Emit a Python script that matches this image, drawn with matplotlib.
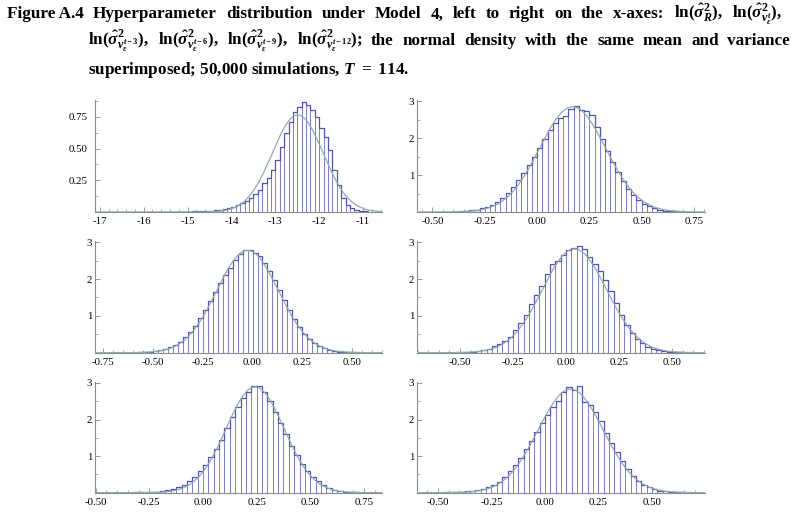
import numpy as np
import matplotlib
matplotlib.use("Agg")
import matplotlib.pyplot as plt
from matplotlib.ticker import MultipleLocator, FixedLocator, FuncFormatter

plt.rcParams["font.family"] = ["Liberation Serif", "DejaVu Serif"]
plt.rcParams["mathtext.fontset"] = "custom"
plt.rcParams["mathtext.rm"] = "Liberation Serif:bold"
plt.rcParams["mathtext.it"] = "Liberation Serif:italic:bold"
plt.rcParams["mathtext.bf"] = "Liberation Serif:bold"
plt.rcParams["axes.unicode_minus"] = False

# ---- histogram data (density per bin) ----
bin_start = [-15.3, -0.425, -0.575, -0.525, -0.375, -0.475]
bin_width = [0.1, 0.025, 0.025, 0.025, 0.025, 0.025]

h_R = [0.002, 0.002, 0.003, 0.003, 0.004, 0.005, 0.006, 0.008, 0.010, 0.013,
       0.016, 0.024, 0.032, 0.042, 0.055, 0.068, 0.087, 0.11, 0.14, 0.175,
       0.225, 0.27, 0.335, 0.41, 0.51, 0.62, 0.71, 0.79, 0.83, 0.87,
       0.845, 0.805, 0.75, 0.66, 0.595, 0.49, 0.33, 0.21, 0.11, 0.055,
       0.03, 0.016, 0.008, 0.004]
h_v0 = [0.006, 0.01, 0.017, 0.027, 0.042, 0.064, 0.095, 0.14, 0.20, 0.28,
        0.39, 0.52, 0.68, 0.86, 1.06, 1.28, 1.50, 1.74, 1.98, 2.22,
        2.42, 2.55, 2.60, 2.78, 2.86, 2.77, 2.74, 2.64, 2.30, 1.98,
        1.65, 1.35, 1.08, 0.84, 0.63, 0.46, 0.33, 0.23, 0.155, 0.10,
        0.063, 0.04, 0.024, 0.014, 0.008]
h_v3 = [0.012, 0.02, 0.03, 0.045, 0.068, 0.10, 0.15, 0.215, 0.30, 0.42,
        0.56, 0.73, 0.93, 1.16, 1.40, 1.64, 1.90, 2.12, 2.30, 2.52,
        2.68, 2.80, 2.80, 2.72, 2.62, 2.44, 2.22, 1.98, 1.70, 1.42,
        1.15, 0.91, 0.70, 0.52, 0.38, 0.27, 0.185, 0.12, 0.078, 0.048,
        0.03, 0.018, 0.01, 0.006]
h_v6 = [0.006, 0.011, 0.018, 0.03, 0.045, 0.07, 0.11, 0.17, 0.24, 0.32,
        0.44, 0.62, 0.81, 1.03, 1.32, 1.56, 1.82, 2.15, 2.42, 2.50,
        2.66, 2.80, 2.84, 2.91, 2.82, 2.60, 2.42, 2.22, 1.98, 1.68,
        1.35, 1.02, 0.75, 0.53, 0.36, 0.26, 0.16, 0.10, 0.062, 0.038,
        0.022, 0.012, 0.007]
h_v9 = [0.003, 0.005, 0.007, 0.01, 0.014, 0.02, 0.028, 0.045, 0.07, 0.10,
        0.15, 0.22, 0.31, 0.44, 0.58, 0.76, 0.98, 1.20, 1.45, 1.78,
        2.08, 2.35, 2.60, 2.76, 2.93, 2.92, 2.75, 2.50, 2.20, 1.90,
        1.60, 1.28, 1.02, 0.78, 0.60, 0.44, 0.32, 0.21, 0.135, 0.085,
        0.05, 0.028, 0.015, 0.008]
h_v12 = [0.006, 0.01, 0.015, 0.022, 0.033, 0.05, 0.075, 0.11, 0.15, 0.20,
         0.30, 0.42, 0.58, 0.76, 0.96, 1.20, 1.42, 1.66, 1.90, 2.12,
         2.33, 2.50, 2.75, 2.88, 2.82, 2.92, 2.48, 2.40, 2.22, 1.96,
         1.62, 1.36, 1.12, 0.86, 0.66, 0.47, 0.33, 0.22, 0.145, 0.095,
         0.06, 0.036, 0.02, 0.011, 0.006]
heights = [h_R, h_v0, h_v3, h_v6, h_v9, h_v12]

# normal curve with the same mean / spread, as drawn
curve_mean = [-12.49, 0.17, -0.025, 0.04, 0.243, 0.12]
curve_sd = [0.58, 0.158, 0.155, 0.152, 0.135, 0.152]
curve_peak = [0.766, 2.85, 2.78, 2.82, 2.89, 2.83]

x_limits = [(-17.11, -10.57), (-0.574, 0.803), (-0.791, 0.650),
            (-0.703, 0.656), (-0.503, 0.834), (-0.598, 0.748)]

title_line1 = ["Figure A.4", "Hyperparameter", "distribution", "under", "Model", "4,",
               "left", "to", "right", "on", "the", "x-axes:",
               r"$\mathrm{ln}(\hat{\sigma}^2_R),$",
               r"$\mathrm{ln}(\hat{\sigma}^2_{v^{t}_{\varepsilon}}),$"]
title_line2 = [r"$\mathrm{ln}(\hat{\sigma}^2_{v^{t-3}_{\varepsilon}}),$",
               r"$\mathrm{ln}(\hat{\sigma}^2_{v^{t-6}_{\varepsilon}}),$",
               r"$\mathrm{ln}(\hat{\sigma}^2_{v^{t-9}_{\varepsilon}}),$",
               r"$\mathrm{ln}(\hat{\sigma}^2_{v^{t-12}_{\varepsilon}});$",
               "the", "normal", "density", "with", "the", "same", "mean", "and", "variance"]
title_line3 = r"superimposed; 50,000 simulations, $T\ =\ 114$."

W, H = 799, 517
fig = plt.figure(figsize=(W / 100, H / 100), dpi=100)

# panel boxes in pixels: left, top, right, bottom
boxes = [(95, 100, 382, 212), (417, 100, 705, 212),
         (95, 241, 382, 352.7), (417, 241, 705, 352.7),
         (95, 381.7, 382, 492.7), (417, 381.7, 705, 492.7)]

AXIS_C = "#8c8c8c"
BAR_EDGE = "#7c7cea"
STEP_C = "#5050c0"
CURVE_C = "#8fada3"

for i, (l, t, r, b) in enumerate(boxes):
    ax = fig.add_axes([l / W, 1 - b / H, (r - l) / W, (b - t) / H])
    hs = np.array(heights[i])
    edges = bin_start[i] + bin_width[i] * np.arange(len(hs) + 1)
    ax.bar(edges[:-1], hs, width=bin_width[i], align="edge",
           facecolor="white", edgecolor=BAR_EDGE, linewidth=0.7, zorder=2)
    ax.stairs(hs, edges, baseline=None, color=STEP_C, linewidth=0.9, zorder=3)
    x0, x1 = x_limits[i]
    xs = np.linspace(x0, x1, 500)
    ys = curve_peak[i] * np.exp(-0.5 * ((xs - curve_mean[i]) / curve_sd[i]) ** 2)
    ax.plot(xs, ys, color=CURVE_C, linewidth=0.9, zorder=4)
    ax.set_xlim(x0, x1)
    if i == 0:
        ax.set_ylim(0, 0.884)
        ax.xaxis.set_major_locator(MultipleLocator(1))
        ax.xaxis.set_minor_locator(MultipleLocator(0.2))
        ax.xaxis.set_major_formatter(FuncFormatter(lambda v, p: f"{v:.0f}"))
        ax.yaxis.set_major_locator(FixedLocator([0.25, 0.5, 0.75]))
        ax.yaxis.set_minor_locator(MultipleLocator(0.125))
        ax.yaxis.set_major_formatter(FuncFormatter(lambda v, p: f"{v:.2f}"))
        ypad = 5.5
    else:
        ax.set_ylim(0, 3.035)
        ax.xaxis.set_major_locator(MultipleLocator(0.25))
        ax.xaxis.set_minor_locator(MultipleLocator(0.05))
        ax.xaxis.set_major_formatter(
            FuncFormatter(lambda v, p: f"{v:.2f}".replace("-0.00", "0.00")))
        ax.yaxis.set_major_locator(FixedLocator([1, 2, 3]))
        ax.yaxis.set_minor_locator(MultipleLocator(0.5))
        ax.yaxis.set_major_formatter(FuncFormatter(lambda v, p: f"{v:.0f}"))
        ypad = 2
    for s in ("top", "right"):
        ax.spines[s].set_visible(False)
    for s in ("left", "bottom"):
        ax.spines[s].set_color(AXIS_C)
        ax.spines[s].set_linewidth(0.8)
    ax.tick_params(which="major", direction="in", length=3.5, width=0.6,
                   color=AXIS_C, labelsize=7.8)
    ax.tick_params(axis="x", which="major", pad=3.5)
    ax.tick_params(axis="y", which="major", pad=ypad)
    ax.tick_params(which="minor", direction="in", length=2, width=0.5, color=AXIS_C)
    ax.set_facecolor("none")


def justify(words, x_left, x_right, y_base, size):
    texts = [fig.text(0, 1 - y_base / H, w, fontsize=size, fontweight="bold",
                      va="baseline", ha="left") for w in words]
    fig.canvas.draw()
    rend = fig.canvas.get_renderer()
    widths = [t.get_window_extent(rend).width for t in texts]
    gap = (x_right - x_left - sum(widths)) / (len(words) - 1)
    x = x_left
    for t, w in zip(texts, widths):
        t.set_x(x / W)
        x += w + gap


TSIZE = 12.3
justify(title_line1, 7, 782, 18.5, TSIZE)
justify(title_line2, 88, 790, 45, TSIZE)
fig.text(88 / W, 1 - 74 / H, title_line3, fontsize=TSIZE, fontweight="bold",
         va="baseline", ha="left")

fig.savefig("out.png", dpi=100)
